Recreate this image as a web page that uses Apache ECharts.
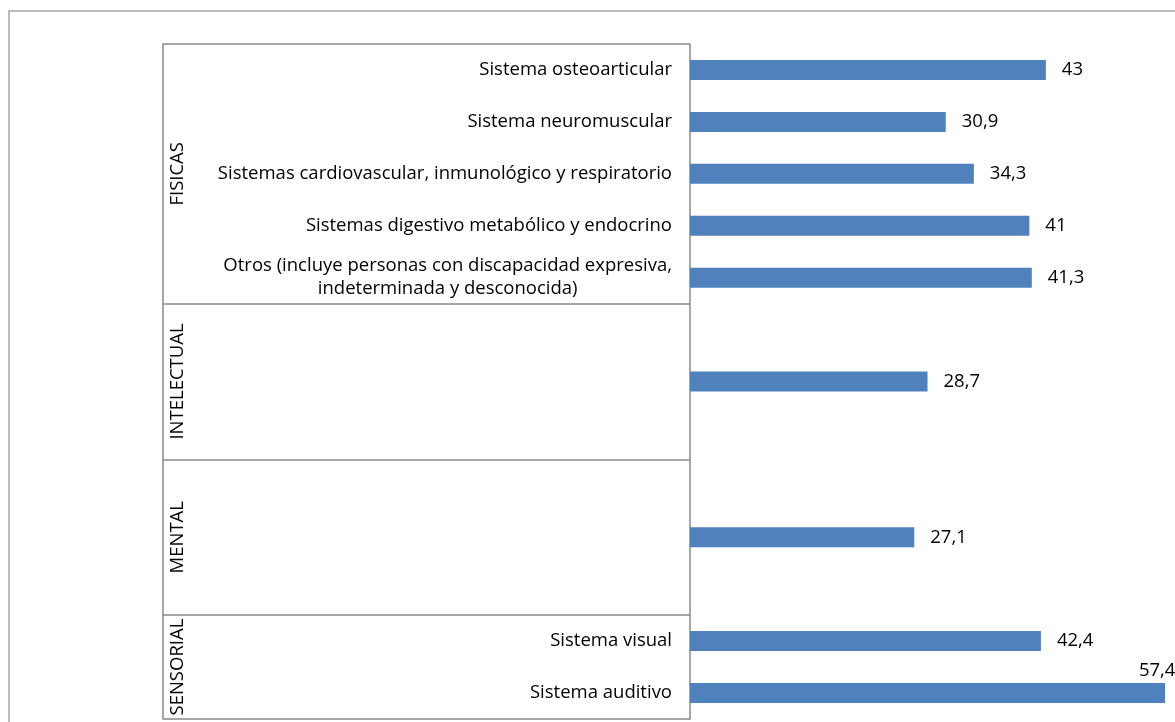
<!DOCTYPE html>
<html>
<head>
<meta charset="utf-8">
<script src="https://cdn.jsdelivr.net/npm/echarts@6/dist/echarts.min.js"></script>
<style>
html,body{margin:0;padding:0;background:#fff;}
#chart{width:1175px;height:722px;}
</style>
</head>
<body>
<div id="chart"></div>
<script>
// Categories (top to bottom); empty strings are spacer slots
const categories = [
  'Sistema osteoarticular',
  'Sistema neuromuscular',
  'Sistemas cardiovascular, inmunológico y respiratorio',
  'Sistemas digestivo metabólico y endocrino',
  'Otros (incluye personas con discapacidad expresiva,\nindeterminada y desconocida)',
  '', 'INTELECTUAL_BAR', '',
  '', 'MENTAL_BAR', '',
  'Sistema visual',
  'Sistema auditivo'
];
const values = [43, 30.9, 34.3, 41, 41.3, null, 28.7, null, null, 27.1, null, 42.4, 57.4];

// Groups: name and slot boundaries (start, end) in category slots
const groupNames = ['FISICAS', 'INTELECTUAL', 'MENTAL', 'SENSORIAL'];
const groupStarts = [0, 5, 8, 11];
const groupEnds = [5, 8, 11, 13];

const axisMax = 58;
const nSlots = categories.length;
const boundaries = [0].concat(groupEnds);
const groupCenters = groupStarts.map((s, i) => (s + groupEnds[i]) / 2);

const fmt = v => String(v).replace('.', ',');

const seriesData = values.map(v => {
  if (v === null) return null;
  if (v > axisMax * 0.95) {
    return { value: v, label: { position: ['94.5%', -22] } };
  }
  return v;
});

const chart = echarts.init(document.getElementById('chart'), null, { renderer: 'canvas' });
const FONT = 'Open Sans';
const FS = 18.5;
chart.setOption({
  animation: false,
  backgroundColor: '#fff',
  textStyle: { fontFamily: FONT },
  graphic: [{
    type: 'rect',
    shape: { x: 9, y: 11, width: 1400, height: 1000 },
    style: { fill: 'none', stroke: '#a6a6a6', lineWidth: 1.5 },
    silent: true
  }],
  grid: { left: 690, right: 5, top: 44, bottom: 3, containLabel: false },
  xAxis: {
    type: 'value', min: 0, max: axisMax,
    show: false
  },
  yAxis: [{
    type: 'category',
    inverse: true,
    data: categories,
    axisLine: { show: true, lineStyle: { color: '#898989', width: 1.5 } },
    axisTick: { show: false },
    axisLabel: {
      margin: 18,
      fontSize: FS,
      color: '#000',
      fontFamily: FONT,
      formatter: function (v) {
        if (v === '' || v.endsWith('_BAR')) return '';
        return v.split('\n').map(l => '{c|' + l + '}').join('\n');
      },
      rich: { c: { align: 'center', fontSize: FS, color: '#000', fontFamily: FONT, lineHeight: 23 } }
    },
    splitLine: { show: false }
  }, {
    type: 'value',
    inverse: true,
    min: 0, max: nSlots,
    position: 'left',
    offset: 527,
    axisLine: { show: true, lineStyle: { color: '#898989', width: 1.5 } },
    axisTick: { show: true, inside: true, length: 527, customValues: boundaries, lineStyle: { color: '#898989', width: 1.5 } },
    axisLabel: {
      inside: true,
      margin: 5,
      rotate: 90,
      fontSize: FS,
      color: '#000',
      fontFamily: FONT,
      customValues: groupCenters,
      formatter: function (v) {
        const i = groupCenters.indexOf(v);
        return i >= 0 ? groupNames[i] : '';
      }
    },
    splitLine: { show: false }
  }],
  series: [{
    type: 'bar',
    yAxisIndex: 0,
    data: seriesData,
    barWidth: 20,
    itemStyle: { color: '#4f81bd' },
    label: {
      show: true,
      position: 'right',
      distance: 16,
      fontSize: FS,
      color: '#000',
      fontFamily: FONT,
      formatter: p => fmt(p.value)
    }
  }]
});
</script>
</body>
</html>
